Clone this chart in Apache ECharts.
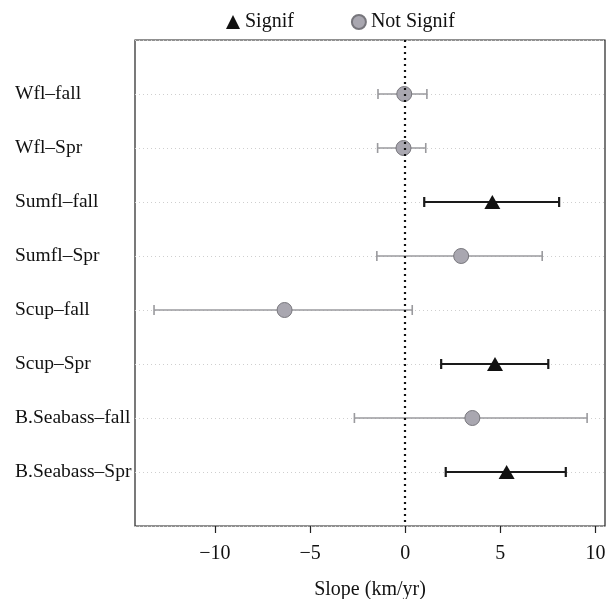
<!DOCTYPE html>
<html>
<head>
<meta charset="utf-8">
<script src="https://cdn.jsdelivr.net/npm/echarts@6/dist/echarts.min.js"></script>
<style>
  html, body { margin: 0; padding: 0; background: #fff; }
  #chart { width: 609px; height: 599px; }
</style>
</head>
<body>
<div id="chart"></div>
<script>
// rows top to bottom
const categories = ['Wfl–fall', 'Wfl–Spr', 'Sumfl–fall', 'Sumfl–Spr', 'Scup–fall', 'Scup–Spr', 'B.Seabass–fall', 'B.Seabass–Spr'];
const slope = [-0.05, -0.09, 4.58, 2.94, -6.34, 4.72, 3.53, 5.33];
const lower = [-1.43, -1.45, 1.0, -1.49, -13.2, 1.89, -2.67, 2.13];
const upper = [1.14, 1.08, 8.09, 7.2, 0.37, 7.52, 9.56, 8.44];
const signif = [false, false, true, false, false, true, false, true];
const xTicks = [-10, -5, 0, 5, 10];

const serif = 'Liberation Serif';

let barData = [], sigPts = [], nsPts = [];
for (let i = 0; i < categories.length; i++) {
  barData.push([lower[i], upper[i], i + 1, signif[i] ? 1 : 0]);
  if (signif[i]) sigPts.push([slope[i], i + 1]);
  else nsPts.push([slope[i], i + 1]);
}

let myChart = echarts.init(document.getElementById('chart'));
let option = {
  animation: false,
  legend: {
    top: 7,
    left: 221,
    itemGap: 57,
    itemWidth: 14,
    itemHeight: 14,
    textStyle: { fontFamily: serif, fontSize: 20, color: '#111' },
    data: [
      { name: 'Signif', icon: 'triangle', itemStyle: { color: '#111', opacity: 1 } },
      { name: 'Not Signif', icon: 'circle' }
    ]
  },
  grid: {
    left: 135, right: 4, top: 40, bottom: 73,
    outerBoundsMode: 'none',
    show: true, borderColor: '#222', borderWidth: 1.2
  },
  xAxis: {
    type: 'value',
    min: -14.2,
    max: 10.5,
    name: 'Slope (km/yr)',
    nameLocation: 'middle',
    nameGap: 54,
    nameTextStyle: { fontFamily: serif, fontSize: 20, color: '#111' },
    axisLine: { show: false, onZero: false },
    axisTick: { show: true, customValues: xTicks, length: 7, lineStyle: { color: '#222', width: 1.2 } },
    axisLabel: { customValues: xTicks, margin: 18, fontFamily: serif, fontSize: 20, color: '#111',
      formatter: v => (v < 0 ? '−' + Math.abs(v) : String(v)) },
    splitLine: { show: false }
  },
  yAxis: {
    type: 'value',
    min: 0,
    max: 9,
    interval: 1,
    inverse: true,
    axisLine: { show: false },
    axisTick: { show: false },
    axisLabel: {
      align: 'left',
      margin: 120,
      fontFamily: serif, fontSize: 19.5, color: '#111',
      formatter: v => categories[v - 1] || ''
    },
    splitLine: { show: true, lineStyle: { color: '#cfcfcf', type: [1, 3], width: 1 } }
  },
  series: [
    {
      type: 'custom',
      name: 'bars',
      data: barData,
      encode: { x: [0, 1], y: 2 },
      renderItem: function (params, api) {
        let a = api.coord([api.value(0), api.value(2)]);
        let b = api.coord([api.value(1), api.value(2)]);
        let sig = api.value(3) === 1;
        let style = { stroke: sig ? '#1a1a1a' : '#9a9a9e', lineWidth: sig ? 2.2 : 1.6 };
        let h = 5;
        return {
          type: 'group',
          children: [
            { type: 'line', shape: { x1: a[0], y1: a[1], x2: b[0], y2: b[1] }, style: style },
            { type: 'line', shape: { x1: a[0], y1: a[1] - h, x2: a[0], y2: a[1] + h }, style: style },
            { type: 'line', shape: { x1: b[0], y1: b[1] - h, x2: b[0], y2: b[1] + h }, style: style }
          ]
        };
      },
      markLine: {
        silent: true,
        symbol: 'none',
        label: { show: false },
        lineStyle: { color: '#111', type: [2, 4], width: 2.2 },
        data: [{ xAxis: 0 }]
      },
      z: 2
    },
    {
      type: 'scatter',
      name: 'Signif',
      data: sigPts,
      symbol: 'triangle',
      symbolSize: [16, 14],
      itemStyle: { color: '#111', opacity: 1 },
      z: 3
    },
    {
      type: 'scatter',
      name: 'Not Signif',
      data: nsPts,
      symbol: 'circle',
      symbolSize: 15,
      itemStyle: { color: '#a9a7b0', borderColor: '#77767c', borderWidth: 1, opacity: 1 },
      z: 3
    }
  ]
};
myChart.setOption(option);
</script>
</body>
</html>
